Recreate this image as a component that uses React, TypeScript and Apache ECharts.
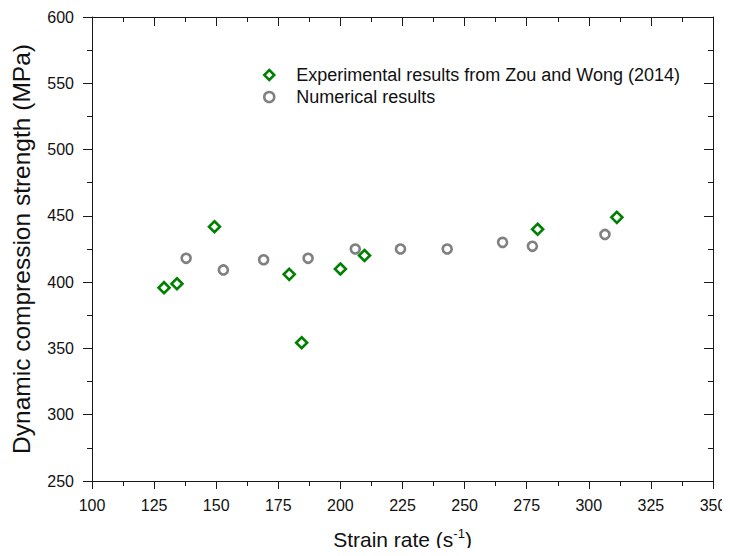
import React, { useEffect, useRef } from "react";
import * as echarts from "echarts";

const expName = "Experimental results from Zou and Wong (2014)";
const numName = "Numerical results";

const expStrainRate = [129, 134.2, 149.3, 179.4, 184.4, 200, 209.7, 279.4, 311.3];
const expStrength = [395.8, 398.8, 441.8, 405.9, 354.3, 409.9, 420.1, 439.9, 448.9];

const numStrainRate = [137.9, 152.9, 169.1, 187, 206, 224.2, 243, 265.3, 277.3, 306.5];
const numStrength = [418, 409.2, 416.9, 418, 425, 425, 425, 430, 427, 436];

const xTicks = { min: 100, max: 350, interval: 25 };
const yTicks = { min: 250, max: 600, interval: 50 };

const FONT = "'Liberation Sans', Arial, Helvetica, sans-serif";
const AXIS_COLOR = "#1a1a1a";

export default function App() {
  const ref = useRef<HTMLDivElement>(null);

  useEffect(() => {
    if (!ref.current) return;
    const chart = echarts.init(ref.current, null, { renderer: "svg" });

    const expData = expStrainRate.map((x, i) => [x, expStrength[i]]);
    const numData = numStrainRate.map((x, i) => [x, numStrength[i]]);

    const axisLine = { show: true, lineStyle: { color: AXIS_COLOR, width: 1 } };

    chart.setOption({
      animation: false,
      backgroundColor: "#ffffff",
      textStyle: { fontFamily: FONT },
      grid: { left: 92, right: 17, top: 17, bottom: 75, containLabel: false },
      legend: {
        orient: "vertical",
        left: 258,
        top: 61,
        itemWidth: 10,
        itemHeight: 10,
        itemGap: 4,
        symbolKeepAspect: true,
        itemStyle: { borderWidth: 2.5 },
        textStyle: { fontSize: 18, color: "#111", fontFamily: FONT, padding: [0, 0, 0, 17] },
        data: [expName, numName],
      },
      xAxis: [
        {
          type: "value",
          position: "bottom",
          min: xTicks.min,
          max: xTicks.max,
          interval: xTicks.interval,
          name: "Strain rate (s{sup|-1})",
          nameLocation: "middle",
          nameGap: 46,
          nameTextStyle: {
            fontSize: 21,
            color: "#111",
            fontFamily: FONT,
            rich: {
              sup: { fontSize: 13, color: "#111", fontFamily: FONT, padding: [0, 0, 12, 0] },
            },
          },
          axisLine,
          axisTick: { show: true, inside: false, length: 8, lineStyle: { color: AXIS_COLOR } },
          minorTick: { show: true, splitNumber: 2, length: 5, lineStyle: { color: AXIS_COLOR } },
          axisLabel: { show: true, fontSize: 16, color: "#111", margin: 16, fontFamily: FONT },
          splitLine: { show: false },
        },
        {
          type: "value",
          position: "top",
          min: xTicks.min,
          max: xTicks.max,
          interval: xTicks.interval,
          axisLine,
          axisTick: { show: true, inside: true, length: 9, lineStyle: { color: AXIS_COLOR } },
          minorTick: { show: true, splitNumber: 2, length: 5, lineStyle: { color: AXIS_COLOR } },
          axisLabel: { show: false },
          splitLine: { show: false },
        },
      ],
      yAxis: [
        {
          type: "value",
          position: "left",
          min: yTicks.min,
          max: yTicks.max,
          interval: yTicks.interval,
          name: "Dynamic compression strength (MPa)",
          nameLocation: "middle",
          nameGap: 58,
          nameTextStyle: { fontSize: 24.5, color: "#111", fontFamily: FONT },
          axisLine,
          axisTick: { show: true, inside: false, length: 9, lineStyle: { color: AXIS_COLOR } },
          minorTick: { show: true, splitNumber: 2, length: 5, lineStyle: { color: AXIS_COLOR } },
          axisLabel: { show: true, fontSize: 16, color: "#111", margin: 18, fontFamily: FONT },
          splitLine: { show: false },
        },
        {
          type: "value",
          position: "right",
          min: yTicks.min,
          max: yTicks.max,
          interval: yTicks.interval,
          axisLine,
          axisTick: { show: true, inside: true, length: 9, lineStyle: { color: AXIS_COLOR } },
          minorTick: { show: true, splitNumber: 2, length: 5, lineStyle: { color: AXIS_COLOR } },
          axisLabel: { show: false },
          splitLine: { show: false },
        },
      ],
      series: [
        {
          name: expName,
          type: "scatter",
          xAxisIndex: 0,
          yAxisIndex: 0,
          symbol: "diamond",
          symbolSize: 11,
          itemStyle: { color: "#ffffff", borderColor: "#008000", borderWidth: 2.6, opacity: 1 },
          data: expData,
          z: 3,
        },
        {
          name: numName,
          type: "scatter",
          xAxisIndex: 0,
          yAxisIndex: 0,
          symbol: "circle",
          symbolSize: 9,
          itemStyle: { color: "#ffffff", borderColor: "#808080", borderWidth: 2.6, opacity: 1 },
          data: numData,
          z: 2,
        },
      ],
    });

    return () => chart.dispose();
  }, []);

  return <div ref={ref} style={{ width: 730, height: 556, margin: -8 }} />;
}
